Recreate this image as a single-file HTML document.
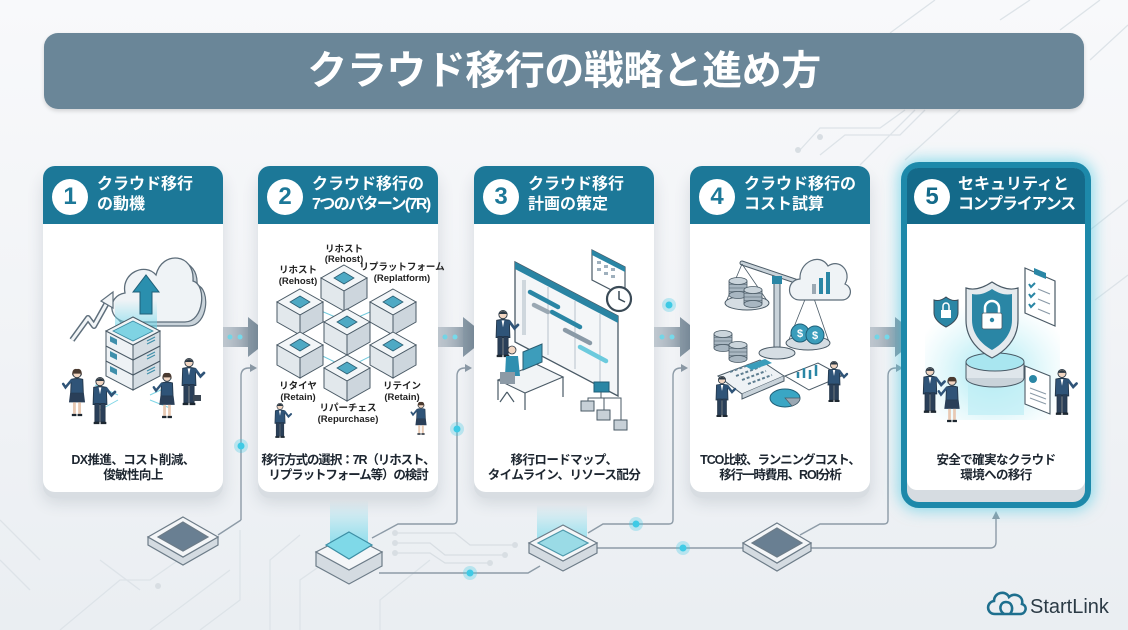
<!DOCTYPE html>
<html><head><meta charset="utf-8">
<style>
*{margin:0;padding:0;box-sizing:border-box}
body{width:1128px;height:630px;overflow:hidden;font-family:"Liberation Sans","Noto Sans CJK JP",sans-serif;background:linear-gradient(180deg,#f8f9fb 0%,#f1f3f6 55%,#eaeef2 100%);position:relative}
svg{position:absolute;left:0;top:0}
.title{position:absolute;left:44px;top:33px;width:1040px;height:76px;border-radius:14px;background:#6a8698;box-shadow:0 2px 4px rgba(0,0,0,.15);color:#fff;font-weight:bold;font-size:40px;text-align:center;line-height:76px;letter-spacing:-0.5px}
.card{position:absolute;top:166px;width:180px;height:326px;background:#fff;border-radius:12px;box-shadow:0 6px 0 #d8dde2,0 10px 16px rgba(40,60,80,.15)}
.hd{position:absolute;left:0;top:0;width:100%;height:58px;background:#1c7898;border-radius:12px 12px 0 0}
.num{position:absolute;left:9px;top:13px;width:36px;height:36px;border-radius:50%;background:#fff;color:#1c7898;font-weight:bold;font-size:24px;text-align:center;line-height:36px}
.ht{position:absolute;left:54px;top:9px;color:#fff;font-weight:bold;font-size:16px;line-height:20px;white-space:nowrap}
.desc{position:absolute;left:0;width:100%;top:287px;text-align:center;font-weight:bold;font-size:12.5px;line-height:15px;color:#1d2630;white-space:nowrap;letter-spacing:-0.6px}
.c5{position:absolute;left:901px;top:162px;width:190px;height:346px;border:6px solid #1d89aa;border-radius:18px;background:#d6dce1;box-shadow:0 0 14px 3px rgba(70,200,225,.55)}
.c5 .hd{background:#146a8a;border-radius:11px 11px 0 0;height:56px}
.c5 .body{position:absolute;left:0;top:56px;width:100%;height:266px;background:#fff;border-radius:0 0 10px 10px}
.c5 .num{left:7px;top:11px;color:#146a8a}
.c5 .ht{left:51px;top:7px}
.c5 .desc{top:285px}
</style></head><body>

<svg width="1128" height="630" viewBox="0 0 1128 630">
<defs>
<linearGradient id="shaft" x1="0" x2="1" y1="0" y2="0"><stop offset="0" stop-color="#a9b6c1" stop-opacity="0"/><stop offset="1" stop-color="#8797a4" stop-opacity=".9"/></linearGradient>
<linearGradient id="head" x1="0" x2="1"><stop offset="0" stop-color="#8a9aa7"/><stop offset="1" stop-color="#6e8190"/></linearGradient>
<linearGradient id="gup" x1="0" y1="1" x2="0" y2="0"><stop offset="0" stop-color="#6fd8ea" stop-opacity=".75"/><stop offset="1" stop-color="#6fd8ea" stop-opacity="0"/></linearGradient>
</defs>
<!-- faint circuit lines -->
<g fill="none" stroke="#dde3e8" stroke-width="1.3">
<path d="M890,33 L935,0 M1000,20 L1030,0 M1060,30 L1100,0 M1090,60 L1128,25"/>
<path d="M800,150 L820,128 H880 L905,110 M820,155 L845,135 H900 L925,110 M860,165 L915,110 M905,160 L960,110"/>
<path d="M1090,230 L1128,200 M1095,300 L1128,275"/>
<path d="M0,520 L40,560 M0,560 L30,590 M100,560 L140,590 M60,630 L120,580 H150 L200,545 M150,630 L230,570 M200,630 L240,600 V530 M270,630 V560 L300,535 M300,630 V580 L350,545 M380,630 V600 L430,560"/>
<path d="M395,533 H455 L470,545 H515 M395,543 H430 L445,555 H505 M395,553 H430 L445,563 H490" stroke="#d8dee3"/>
</g>
<g fill="#d8dee3"><circle cx="395" cy="533" r="3"/><circle cx="395" cy="543" r="3"/><circle cx="395" cy="553" r="3"/><circle cx="515" cy="545" r="3"/><circle cx="505" cy="555" r="3"/><circle cx="490" cy="563" r="3"/><circle cx="158" cy="586" r="3"/><circle cx="798" cy="150" r="3"/><circle cx="820" cy="137" r="3"/></g>

<!-- arrows between cards -->
<g>
<rect x="198" y="327" width="50" height="20" fill="url(#shaft)"/><polygon points="248,317 273,337 248,357" fill="url(#head)"/>
<rect x="413" y="327" width="50" height="20" fill="url(#shaft)"/><polygon points="463,317 488,337 463,357" fill="url(#head)"/>
<rect x="630" y="327" width="50" height="20" fill="url(#shaft)"/><polygon points="680,317 705,337 680,357" fill="url(#head)"/>
<rect x="845" y="327" width="50" height="20" fill="url(#shaft)"/><polygon points="895,317 920,337 895,357" fill="url(#head)"/>
<g fill="#76d9ea">
<circle cx="209" cy="337" r="2.5"/><circle cx="219" cy="337" r="2.5"/><circle cx="230" cy="337" r="2.5"/><circle cx="240" cy="337" r="2.5"/>
<circle cx="424" cy="337" r="2.5"/><circle cx="434" cy="337" r="2.5"/><circle cx="445" cy="337" r="2.5"/><circle cx="455" cy="337" r="2.5"/>
<circle cx="641" cy="337" r="2.5"/><circle cx="651" cy="337" r="2.5"/><circle cx="662" cy="337" r="2.5"/><circle cx="672" cy="337" r="2.5"/>
<circle cx="856" cy="337" r="2.5"/><circle cx="866" cy="337" r="2.5"/><circle cx="877" cy="337" r="2.5"/><circle cx="887" cy="337" r="2.5"/>
</g>
</g>

<!-- connectors -->
<g fill="none" stroke="#8d9ba7" stroke-width="1.4">
<path d="M241,520 V376 Q241,368 249,368 H252"/>
<path d="M457,520 V376 Q457,368 465,368 H467"/>
<path d="M673,520 V376 Q673,368 681,368 H683"/>
<path d="M888,520 V376 Q888,368 896,368 H898"/>
<path d="M241,520 L218,535"/>
<path d="M457,520 Q457,524 453,524 H398 L372,538"/>
<path d="M673,520 Q673,524 669,524 H603 L588,533"/>
<path d="M888,520 Q888,524 884,524 H820 L800,535"/>
<path d="M379,573 H528 L540,566"/>
<path d="M597,548 H745"/>
<path d="M811,548 H990 Q996,548 996,542 V518"/>
</g>
<g fill="#8d9ba7">
<polygon points="257,368 250,364 250,372"/><polygon points="472,368 465,364 465,372"/><polygon points="688,368 681,364 681,372"/><polygon points="903,368 896,364 896,372"/>
<polygon points="996,511 992,519 1000,519"/>
</g>
<g fill="#3fcbe6"><circle cx="241" cy="446" r="3.5"/><circle cx="457" cy="429" r="3.5"/><circle cx="669" cy="305" r="3.5"/><circle cx="470" cy="573" r="3.5"/><circle cx="636" cy="524" r="3.5"/><circle cx="683" cy="548" r="3.5"/></g>
<g fill="#3fcbe6" opacity=".3"><circle cx="241" cy="446" r="7"/><circle cx="457" cy="429" r="7"/><circle cx="669" cy="305" r="7"/><circle cx="470" cy="573" r="7"/><circle cx="636" cy="524" r="7"/><circle cx="683" cy="548" r="7"/></g>

<!-- devices -->
<g stroke="#6d7c88" stroke-width="1.2">
<path d="M148,537 L183,557 L218,537 L218,545 L183,565 L148,545Z" fill="#d4dbe1"/>
<path d="M183,517 L218,537 L183,557 L148,537Z" fill="#f4f6f8"/>
<path d="M183,522 L208,537 L183,551 L158,537Z" fill="#697f92"/>
<rect x="330" y="500" width="38" height="45" fill="url(#gup)" stroke="none"/>
<path d="M316,552 L349,570 L382,552 L382,566 L349,584 L316,566Z" fill="#d4dbe1"/>
<path d="M349,535 L382,552 L349,570 L316,552Z" fill="#f4f6f8"/>
<path d="M349,532 L372,545 L349,559 L326,545Z" fill="#7fd9e8" stroke="#3d8ea4"/>
<rect x="537" y="505" width="50" height="40" fill="url(#gup)" stroke="none"/>
<path d="M529,543 L563,561 L597,543 L597,553 L563,571 L529,553Z" fill="#d4dbe1"/>
<path d="M563,525 L597,543 L563,561 L529,543Z" fill="#f4f6f8"/>
<path d="M563,530 L588,543 L563,556 L538,543Z" fill="#9adbe6" stroke="#4d97aa"/>
<path d="M743,543 L777,563 L811,543 L811,551 L777,571 L743,551Z" fill="#d4dbe1"/>
<path d="M777,523 L811,543 L777,563 L743,543Z" fill="#f4f6f8"/>
<path d="M777,528 L802,543 L777,557 L752,543Z" fill="#697f92"/>
</g>
</svg>

<div class="title">クラウド移行の戦略と進め方</div>

<div class="card" style="left:43px"><div class="hd"><div class="num">1</div><div class="ht">クラウド移行<br>の動機</div></div><div class="desc">DX推進、コスト削減、<br>俊敏性向上</div></div>
<div class="card" style="left:258px"><div class="hd"><div class="num">2</div><div class="ht">クラウド移行の<br><span style="letter-spacing:-1.6px">7つのパターン(7R)</span></div></div><div class="desc" style="letter-spacing:-1.1px">移行方式の選択：7R（リホスト、<br>リプラットフォーム等）の検討</div></div>
<div class="card" style="left:474px"><div class="hd"><div class="num">3</div><div class="ht">クラウド移行<br>計画の策定</div></div><div class="desc">移行ロードマップ、<br>タイムライン、リソース配分</div></div>
<div class="card" style="left:690px"><div class="hd"><div class="num">4</div><div class="ht">クラウド移行の<br>コスト試算</div></div><div class="desc" style="letter-spacing:-1.1px">TCO比較、ランニングコスト、<br>移行一時費用、ROI分析</div></div>
<div class="c5"><div class="hd"><div class="num">5</div><div class="ht">セキュリティと<br><span style="letter-spacing:-1.2px">コンプライアンス</span></div></div><div class="body"></div><div class="desc">安全で確実なクラウド<br>環境への移行</div></div>

<svg width="1128" height="630" viewBox="0 0 1128 630">
<defs>
<linearGradient id="gup2" x1="0" y1="1" x2="0" y2="0"><stop offset="0" stop-color="#6fd8ea" stop-opacity=".7"/><stop offset="1" stop-color="#6fd8ea" stop-opacity="0"/></linearGradient>
<radialGradient id="cy" cx=".5" cy=".6" r=".6"><stop offset="0" stop-color="#8fe3ef" stop-opacity=".85"/><stop offset="1" stop-color="#bfeef5" stop-opacity="0"/></radialGradient>
<g id="pp">
<circle cx="0" cy="4" r="3.6" fill="#f2d6c2" stroke="#2c3a46" stroke-width=".8"/>
<path d="M-3.8,3.5 Q0,-1.5 3.8,3.5 Z" fill="#2c3a46"/>
<path d="M-5.5,9 Q0,7.5 5.5,9 L6,24 L-6,24 Z" fill="#2f5478" stroke="#22364a" stroke-width=".8"/>
<path d="M-1.2,9 L0,15 L1.2,9Z" fill="#fff"/>
<path d="M5.5,10 L10,16 L13,13" fill="none" stroke="#2f5478" stroke-width="2.4" stroke-linecap="round"/>
<rect x="-4.5" y="23" width="4" height="16" fill="#2a3f58" stroke="#1f2f40" stroke-width=".6"/>
<rect x="0.5" y="23" width="4" height="16" fill="#2a3f58" stroke="#1f2f40" stroke-width=".6"/>
<path d="M-5.5,39 h5 v2 h-5z M0.5,39 h5 v2 h-5z" fill="#1d2730"/>
</g>
<g id="pf">
<circle cx="0" cy="4" r="3.6" fill="#f2d6c2" stroke="#2c3a46" stroke-width=".8"/>
<path d="M-4.2,6 Q-4.5,-1 0,0 Q4.5,-1 4.2,6 L3.5,4 L-3.5,4Z" fill="#4a3a30"/>
<path d="M-5,9 Q0,7.5 5,9 L5.5,21 L-5.5,21 Z" fill="#2f5478" stroke="#22364a" stroke-width=".8"/>
<path d="M-6,21 L6,21 L7,29 L-7,29Z" fill="#2a3f58"/>
<path d="M-5,10 L-10,16 L-12,13" fill="none" stroke="#2f5478" stroke-width="2.2" stroke-linecap="round"/>
<rect x="-3.5" y="29" width="2.5" height="10" fill="#e8c9b3"/><rect x="1" y="29" width="2.5" height="10" fill="#e8c9b3"/>
<path d="M-4.5,39 h4 v2 h-4z M0.5,39 h4 v2 h-4z" fill="#1d2730"/>
</g>
<g id="cube">
<path d="M0,-13 L23,0 L0,13 L-23,0Z" fill="#f3f6f8" stroke="#4a5a66" stroke-width="1"/>
<path d="M-23,0 L0,13 L0,33 L-23,20Z" fill="#e2e8ec" stroke="#4a5a66" stroke-width="1"/>
<path d="M23,0 L0,13 L0,33 L23,20Z" fill="#cdd6dd" stroke="#4a5a66" stroke-width="1"/>
<path d="M0,-6 L10,0 L0,6 L-10,0Z" fill="#4ea9c4" stroke="#2a5d72" stroke-width=".8"/>
</g>
<g id="slab">
<path d="M-27,0 L0,14 L0,29 L-27,15Z" fill="#eef2f5" stroke="#4a5a66" stroke-width="1"/>
<path d="M27,0 L0,14 L0,29 L27,15Z" fill="#d5dde3" stroke="#4a5a66" stroke-width="1"/>
<path d="M-23,5 L-16,8.5 L-16,14 L-23,10.5Z" fill="#3f8fab"/>
<path d="M22,6 L14,10 M22,9 L14,13" stroke="#3f8fab" stroke-width="1.2"/>
</g>
<g id="coin"><rect x="-9" y="0" width="18" height="14" fill="#a8b6c1" stroke="#4a5a66" stroke-width=".8"/><path d="M-9,3.5 H9 M-9,7 H9 M-9,10.5 H9" stroke="#4a5a66" stroke-width=".6"/><ellipse cx="0" cy="14" rx="9" ry="3.5" fill="#a8b6c1" stroke="#4a5a66" stroke-width=".8"/><ellipse cx="0" cy="0" rx="9" ry="3.5" fill="#cbd5dc" stroke="#4a5a66" stroke-width=".8"/></g>
</defs>

<!-- ===== Card 1 ===== -->
<g>
<path d="M128,322 C108,322 106,296 125,293 C121,273 145,262 156,275 C162,250 195,253 193,281 C207,285 204,322 185,322 Z" fill="#c9d3da" stroke="#5d6d7a" stroke-width="1.2" transform="translate(4,4)"/>
<path d="M128,322 C108,322 106,296 125,293 C121,273 145,262 156,275 C162,250 195,253 193,281 C207,285 204,322 185,322 Z" fill="#eff3f6" stroke="#5d6d7a" stroke-width="1.3"/>
<rect x="115" y="300" width="42" height="30" fill="url(#gup2)"/>
<polygon points="133,292 146,275 159,292 152,292 152,314 140,314 140,292" fill="#2a8fae" stroke="#1f5f78" stroke-width="1"/>
<path d="M72,340 L88,318 L94,326 L108,301" fill="none" stroke="#5f6f7c" stroke-width="6" stroke-linejoin="round"/>
<path d="M72,340 L88,318 L94,326 L108,301" fill="none" stroke="#f2f5f7" stroke-width="3" stroke-linejoin="round"/>
<polygon points="113,292 101,301 113,308" fill="#f2f5f7" stroke="#5f6f7c" stroke-width="1.2"/>
<use href="#slab" x="133" y="361"/>
<use href="#slab" x="133" y="346"/>
<use href="#slab" x="133" y="331"/>
<path d="M133,317 L160,331 L133,345 L106,331Z" fill="#f0f4f6" stroke="#4a5a66" stroke-width="1"/>
<path d="M133,321 L153,331 L133,341 L113,331Z" fill="#7fd3e3" stroke="#3a8aa2" stroke-width=".8"/>
<path d="M95,385 L118,395 M150,395 L165,388 M118,400 L100,410 M150,400 L170,408" stroke="#7fd6e6" stroke-width="1"/>
<use href="#pf" transform="translate(77,369) scale(1.15)"/>
<use href="#pp" transform="translate(100,377) scale(1.15)"/>
<use href="#pf" transform="translate(167,373) scale(1.1)"/>
<use href="#pp" transform="translate(189,358) scale(1.15)"/>
<rect x="193" y="395" width="8" height="6" fill="#3a4653"/>
</g>

<!-- ===== Card 2 ===== -->
<g>
<path d="M300,302 L347,322 L393,302 M344,278 L347,322 M300,345 L347,368 L393,345 M347,322 L347,368" stroke="#6cc8dc" stroke-width="1" fill="none"/>
<use href="#cube" x="344" y="278"/>
<use href="#cube" x="300" y="302"/>
<use href="#cube" x="393" y="302"/>
<use href="#cube" x="347" y="322"/>
<use href="#cube" x="300" y="345"/>
<use href="#cube" x="393" y="345"/>
<use href="#cube" x="347" y="368"/>
<g font-family="Liberation Sans,Noto Sans CJK JP,sans-serif" font-size="9.5" font-weight="bold" fill="#222" text-anchor="middle">
<text x="344" y="252">リホスト</text><text x="344" y="262">(Rehost)</text>
<text x="298" y="273">リホスト</text><text x="298" y="284">(Rehost)</text>
<text x="402" y="270">リプラットフォーム</text><text x="402" y="281">(Replatform)</text>
<text x="298" y="389">リタイヤ</text><text x="298" y="400">(Retain)</text>
<text x="402" y="389">リテイン</text><text x="402" y="400">(Retain)</text>
<text x="348" y="411">リパーチェス</text><text x="348" y="422">(Repurchase)</text>
</g>
<use href="#pp" transform="translate(280,403) scale(.85)"/>
<use href="#pf" transform="translate(421,402) scale(.8)"/>
</g>

<!-- ===== Card 3 ===== -->
<g>
<path d="M515,262 L618,316 L618,396 L515,342Z" fill="#f4f6f8" stroke="#4a5a66" stroke-width="1.3"/>
<path d="M515,262 L618,316 L618,323 L515,269Z" fill="#2a84a3"/>
<path d="M524,280 L524,335" stroke="#cfd7dd" stroke-width="4"/>
<path d="M548,287 L548,355 M575,301 L575,369 M600,314 L600,383" stroke="#b8c3cc" stroke-width="1"/>
<g stroke-width="4.5" stroke-linecap="round">
<path d="M530,292 L558,307" stroke="#2a86a5"/>
<path d="M552,312 L580,327" stroke="#2a86a5"/>
<path d="M565,330 L590,343" stroke="#8a9aa7"/>
<path d="M580,347 L606,361" stroke="#6ccadd"/>
<path d="M534,305 L548,312" stroke="#9aa8b3"/>
</g>
<path d="M592,250 L625,267 L625,297 L592,280Z" fill="#fff" stroke="#4a5a66" stroke-width="1.2"/>
<path d="M592,250 L625,267 L625,272 L592,255Z" fill="#2a86a5"/>
<g fill="#9fb0bd"><rect x="597" y="261" width="4" height="3"/><rect x="604" y="265" width="4" height="3"/><rect x="611" y="268" width="4" height="3"/><rect x="597" y="268" width="4" height="3"/><rect x="604" y="272" width="4" height="3"/><rect x="611" y="275" width="4" height="3"/></g>
<circle cx="619" cy="299" r="12" fill="#fff" stroke="#3a4a56" stroke-width="2.2"/>
<path d="M619,291 V299 L625,302" stroke="#3a4a56" stroke-width="1.5" fill="none"/>
<use href="#pp" transform="translate(503,310) scale(1.15)"/>
<path d="M498,380 L536,364 L563,377 L525,393Z" fill="#f1f4f6" stroke="#4a5a66" stroke-width="1.1"/>
<path d="M498,380 L498,400 M525,393 L525,410 M563,377 L563,397" stroke="#4a5a66" stroke-width="1.2"/>
<path d="M523,352 L542,344 L542,362 L523,370Z" fill="#3d9dbb" stroke="#2a5d72"/>
<circle cx="512" cy="350" r="4" fill="#f2d6c2" stroke="#2c3a46" stroke-width=".8"/>
<path d="M506,356 L518,356 L520,376 L505,376Z" fill="#2f8fb0"/>
<path d="M500,372 L515,372 L515,384 L500,384Z" fill="#8c9aa6"/>
<path d="M507,392 L500,402 M507,392 L514,402" stroke="#4a5a66" stroke-width="1.2"/>
<rect x="594" y="382" width="15" height="10" fill="#2a86a5" stroke="#1f5f78"/>
<path d="M601,392 V398 H588 V402 M601,398 H604 V410 M601,398 H621 V420" fill="none" stroke="#4a5a66" stroke-width="1"/>
<rect x="581" y="401" width="13" height="10" fill="#c7d0d7" stroke="#4a5a66"/>
<rect x="597" y="410" width="13" height="10" fill="#c7d0d7" stroke="#4a5a66"/>
<rect x="614" y="420" width="13" height="10" fill="#c7d0d7" stroke="#4a5a66"/>
</g>

<!-- ===== Card 4 ===== -->
<g>
<path d="M742,263 L810,286" stroke="#4a5a66" stroke-width="5" stroke-linecap="round"/>
<path d="M742,263 L810,286" stroke="#c9d3da" stroke-width="3" stroke-linecap="round"/>
<rect x="774" y="278" width="6" height="72" fill="#c9d3da" stroke="#4a5a66"/>
<rect x="772" y="276" width="10" height="8" fill="#2a86a5"/>
<ellipse cx="777" cy="353" rx="18" ry="6" fill="#d5dde3" stroke="#4a5a66"/>
<path d="M742,264 L726,302 M742,264 L768,302 M810,287 L788,342 M810,287 L829,342" stroke="#4a5a66" stroke-width=".8"/>
<ellipse cx="747" cy="303" rx="22" ry="7" fill="#d5dde3" stroke="#4a5a66"/>
<use href="#coin" x="738" y="281"/>
<use href="#coin" x="753" y="290"/>
<ellipse cx="808" cy="343" rx="22" ry="7" fill="#d5dde3" stroke="#4a5a66"/>
<circle cx="800" cy="333" r="9" fill="#3a9dbb" stroke="#1f5f78"/><circle cx="815" cy="335" r="9" fill="#3a9dbb" stroke="#1f5f78"/>
<text x="800" y="337" font-size="11" font-weight="bold" fill="#fff" text-anchor="middle" font-family="Liberation Sans,sans-serif">$</text>
<text x="815" y="339" font-size="11" font-weight="bold" fill="#fff" text-anchor="middle" font-family="Liberation Sans,sans-serif">$</text>
<path d="M800,300 C786,300 786,280 800,279 C799,262 820,252 828,266 C840,258 852,272 845,284 C854,288 851,300 842,300 Z" fill="#eff3f6" stroke="#5d6d7a" stroke-width="1.2"/>
<rect x="812" y="284" width="4" height="10" fill="#9aa8b3"/><rect x="819" y="278" width="4" height="16" fill="#2a86a5"/><rect x="826" y="272" width="4" height="22" fill="#2a86a5"/>
<use href="#coin" x="723" y="334"/>
<use href="#coin" x="738" y="345"/>
<path d="M718,376 L760,360 L784,376 L742,394Z" fill="#eef2f5" stroke="#4a5a66"/>
<path d="M742,394 L742,399 L784,381 L784,376" fill="#c9d3da" stroke="#4a5a66"/>
<path d="M730,372 L754,363 M736,376 L760,367 M742,380 L766,371 M748,384 L772,375" stroke="#5d7d90" stroke-width="2" stroke-dasharray="3,2"/>
<path d="M745,366 L765,359 L772,363 L752,370Z" fill="#3a9dbb"/>
<path d="M785,376 L818,363 L842,376 L809,390Z" fill="#fff" stroke="#4a5a66"/>
<path d="M798,378 V372 M804,378 V368 M810,379 V370 M816,376 V365" stroke="#2a86a5" stroke-width="2.5"/>
<ellipse cx="785" cy="398" rx="15" ry="9" fill="#3aa6c4" stroke="#1f5f78"/>
<path d="M785,398 L800,398 A15,9 0 0,1 792,406Z" fill="#9aa8b3" stroke="#4a5a66" stroke-width=".7"/>
<use href="#pp" transform="translate(722,376) scale(1)"/>
<use href="#pp" transform="translate(834,361) scale(1)"/>
</g>

<!-- ===== Card 5 ===== -->
<g>
<rect x="925" y="300" width="135" height="120" fill="url(#cy)"/>
<rect x="968" y="370" width="56" height="45" fill="#bfeef5" opacity=".7"/>
<ellipse cx="995" cy="378" rx="29" ry="9" fill="#c9d3da" stroke="#4a5a66"/>
<rect x="966" y="362" width="58" height="16" fill="#dfe6eb" stroke="none"/>
<path d="M966,362 V378 M1024,362 V378" stroke="#4a5a66"/>
<ellipse cx="995" cy="362" rx="29" ry="9" fill="#a9e6f0" stroke="#4a5a66"/>
<path d="M992,282 C980,290 972,290 966,288 L966,320 C966,340 980,352 992,358 C1004,352 1018,340 1018,320 L1018,288 C1012,290 1004,290 992,282Z" fill="#e4eaee" stroke="#4a5a66" stroke-width="1.2"/>
<path d="M992,289 C983,295 977,295 972,294 L972,320 C972,335 983,345 992,350 C1001,345 1012,335 1012,320 L1012,294 C1007,295 1001,295 992,289Z" fill="#2a86a5"/>
<path d="M985,314 V308 A7,7 0 0,1 999,308 V314" fill="none" stroke="#fff" stroke-width="2.5"/>
<rect x="982" y="313" width="20" height="16" rx="2" fill="#fff" stroke="#4a5a66" stroke-width=".8"/>
<circle cx="992" cy="320" r="2.2" fill="#2a86a5"/>
<path d="M946,297 C941,301 937,301 934,300 L934,313 C934,319 940,324 946,327 C952,324 958,319 958,313 L958,300 C955,301 951,301 946,297Z" fill="#2a86a5" stroke="#3a4a56"/>
<rect x="941" y="310" width="10" height="8" fill="#fff"/><path d="M943,310 V306 A3,3 0 0,1 949,306 V310" fill="none" stroke="#fff" stroke-width="1.5"/>
<path d="M1025,268 L1055,281 L1055,326 L1025,313Z" fill="#fff" stroke="#4a5a66" stroke-width="1.2"/>
<path d="M1034,268 L1046,273 L1046,279 L1034,274Z" fill="#2a86a5"/>
<g stroke="#2a86a5" stroke-width="2" fill="none"><path d="M1029,284 L1031,287 L1035,283 M1029,294 L1031,297 L1035,293 M1029,304 L1031,307 L1035,303"/></g>
<g stroke="#8a9aa7" stroke-width="1.2"><path d="M1038,289 L1050,294 M1038,299 L1050,304 M1038,309 L1050,314"/></g>
<path d="M1025,366 L1050,376 L1050,414 L1025,404Z" fill="#fff" stroke="#4a5a66" stroke-width="1.1"/>
<circle cx="1033" cy="379" r="4" fill="#2a86a5"/>
<path d="M1030,388 L1046,394 M1030,393 L1046,399 M1030,398 L1046,404" stroke="#8a9aa7"/>
<use href="#pp" transform="translate(930,367) scale(1.12)"/>
<use href="#pf" transform="translate(952,377) scale(1.1)"/>
<use href="#pp" transform="translate(1062,369) scale(1.12)"/>
</g>

<!-- logo -->
<g fill="none" stroke="#1e6f8e" stroke-width="2.6">
<path d="M995,614 C986,614 986,602 994,601 C994,592 1006,590 1009,597 C1014,592 1024,596 1022,604 C1028,606 1026,614 1020,614 Z"/>
<path d="M1004,614 C998,610 1000,602 1006,602 C1012,602 1014,609 1010,614"/>
</g>
<text x="1030" y="613" font-family="Liberation Sans,sans-serif" font-size="20" fill="#2b3a45">StartLink</text>
</svg>
</body></html>
